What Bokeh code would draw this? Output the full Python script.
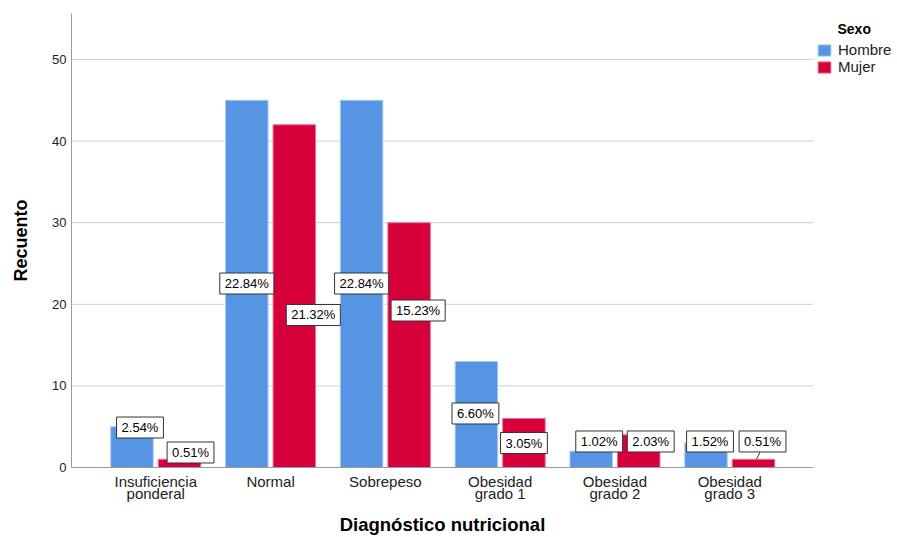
from bokeh.plotting import figure
from bokeh.models import (ColumnDataSource, Range1d, Legend, LegendItem, Label,
                          FixedTicker, LinearAxis)
from bokeh.transform import dodge
from bokeh.core.properties import value
from bokeh.embed import file_html
from bokeh.resources import INLINE

# ---- data ----
categories = ["Insuficiencia ponderal", "Normal", "Sobrepeso",
              "Obesidad grado 1", "Obesidad grado 2", "Obesidad grado 3"]
tick_line1 = ["Insuficiencia", "Normal", "Sobrepeso", "Obesidad", "Obesidad", "Obesidad"]
tick_line2 = ["ponderal", " ", " ", "grado 1", "grado 2", "grado 3"]
hombre = [5, 45, 45, 13, 2, 3]
mujer = [1, 42, 30, 6, 4, 1]
y_ticks = [0, 10, 20, 30, 40, 50]
x_title = "Diagnóstico nutricional"
y_title = "Recuento"
legend_title = "Sexo"

total = sum(hombre) + sum(mujer)
hombre_pct = [f"{v / total * 100:.2f}%" for v in hombre]
mujer_pct = [f"{v / total * 100:.2f}%" for v in mujer]

# ---- label box layout (positions, not data) ----
hombre_lab_y = [4.9, 22.55, 22.55, 6.62, 3.19, 3.19]
hombre_lab_dx = [8, 0, 0, -1, 8, 4]
mujer_lab_y = [1.84, 18.69, 19.24, 3.0, 3.19, 3.19]
mujer_lab_dx = [11, 19, 9, 0, 12, 9]

BLUE = "#5595e4"
RED = "#d6003a"
FONT = "Liberation Sans"
OFF = 0.207
BW = 0.37
W, H = 897, 537
FL, FT, FB = 71, 13, 467          # frame left / top / bottom (px)
PX = 114.8                        # px per category
XL = -0.734
XR = XL + (W - FL) / PX
XG = XL + (813 - FL) / PX         # right end of axis / grid lines
XC = (XL + XG) / 2
YMAX = 55.64

xi = list(range(len(categories)))
src = ColumnDataSource(dict(xi=xi, hombre=hombre, mujer=mujer,
                            hpct=hombre_pct, mpct=mujer_pct,
                            hy=hombre_lab_y, hdx=hombre_lab_dx,
                            my=mujer_lab_y, mdx=mujer_lab_dx))

p = figure(x_range=Range1d(XL, XR), y_range=Range1d(0, YMAX),
           width=W, height=H, output_backend="svg", toolbar_location=None,
           min_border_left=FL, min_border_right=0, min_border_top=FT,
           min_border_bottom=H - FB)
p.outline_line_color = None
p.background_fill_color = "white"
p.xgrid.visible = False
p.ygrid.visible = False

# horizontal grid lines limited to the category area
gsrc = ColumnDataSource(dict(y=y_ticks[1:]))
p.segment(x0=XL, x1=XG, y0="y", y1="y", source=gsrc, line_color="#d0d0d0", line_width=1)

# y axis
ya = p.yaxis[0]
ya.ticker = FixedTicker(ticks=y_ticks)
ya.axis_line_color = "#9a9a9a"
ya.major_tick_line_color = None
ya.minor_tick_line_color = None
ya.major_tick_out = 0
ya.minor_tick_out = 0
ya.major_label_text_font = FONT
ya.major_label_text_font_size = "13px"
ya.major_label_text_color = "#222222"
ya.major_label_standoff = 5
ya.axis_label = y_title
ya.axis_label_text_font = FONT
ya.axis_label_text_font_size = "18px"
ya.axis_label_text_font_style = "bold"
ya.axis_label_text_color = "black"
ya.axis_label_standoff = 18


def plain_axis(**kw):
    base = dict(axis_line_color=None, major_tick_line_color=None,
                minor_tick_line_color=None, major_tick_out=0, minor_tick_out=0,
                major_label_text_font=FONT, major_label_text_font_size="15px",
                major_label_text_color="#222222")
    base.update(kw)
    return LinearAxis(**base)


# x axis (first line of category labels)
xa = p.xaxis[0]
xa.ticker = FixedTicker(ticks=xi)
xa.bounds = (XL, XG)
xa.major_label_overrides = dict(zip(xi, tick_line1))
xa.axis_line_color = "#9a9a9a"
xa.major_tick_line_color = None
xa.minor_tick_line_color = None
xa.major_tick_out = 0
xa.minor_tick_out = 0
xa.major_label_text_font = FONT
xa.major_label_text_font_size = "15px"
xa.major_label_text_color = "#222222"
xa.major_label_standoff = 5

# second line of category labels
p.add_layout(plain_axis(ticker=FixedTicker(ticks=xi),
                        major_label_overrides=dict(zip(xi, tick_line2)),
                        major_label_standoff=-8), "below")
# axis title, centred under the category area
p.add_layout(plain_axis(ticker=FixedTicker(ticks=[XC]),
                        major_label_overrides={XC: x_title},
                        major_label_text_font_size="18.5px",
                        major_label_text_font_style="bold",
                        major_label_text_color="black",
                        major_label_standoff=9), "below")

r_h = p.vbar(x=dodge("xi", -OFF), top="hombre", width=BW, source=src,
             fill_color=BLUE, line_color="#a8c8f2", line_width=1)
r_m = p.vbar(x=dodge("xi", OFF), top="mujer", width=BW, source=src,
             fill_color=RED, line_color="#e8708c", line_width=1)

# leader line for the last Mujer label
lead = ColumnDataSource(dict(xi=[xi[5]], y0=[mujer_lab_y[5] - 1.2], y1=[mujer[5]]))
p.segment(x0=dodge("xi", OFF + 0.06), y0="y0", x1=dodge("xi", OFF + 0.025), y1="y1",
          source=lead, line_color="#333333", line_width=1)

common = dict(text_font=value(FONT), text_font_size="13px", text_color="black",
              text_align="center", text_baseline="middle",
              background_fill_color="white", border_line_color="#333333",
              border_line_width=1,
              padding=dict(left=5, right=5, top=3, bottom=3))
p.text(x=dodge("xi", -OFF), y="hy", text="hpct", x_offset="hdx", source=src, **common)
p.text(x=dodge("xi", OFF), y="my", text="mpct", x_offset="mdx", source=src, **common)

legend = Legend(items=[LegendItem(label="Hombre", renderers=[r_h]),
                       LegendItem(label="Mujer", renderers=[r_m])],
                location=(816 - FL, FB - 75), padding=0, margin=0, spacing=0,
                glyph_width=16, glyph_height=14, label_height=14, label_standoff=6,
                label_text_font=FONT, label_text_font_size="15px",
                label_text_color="#222222",
                border_line_color=None, background_fill_alpha=0)
p.add_layout(legend)

p.add_layout(Label(x=837 - FL, y=FB - 28, x_units="screen", y_units="screen",
                   text=legend_title, text_font=FONT, text_font_size="14px",
                   text_font_style="bold", text_baseline="middle", text_color="black"))

open("out.html", "w").write(file_html(p, INLINE))
